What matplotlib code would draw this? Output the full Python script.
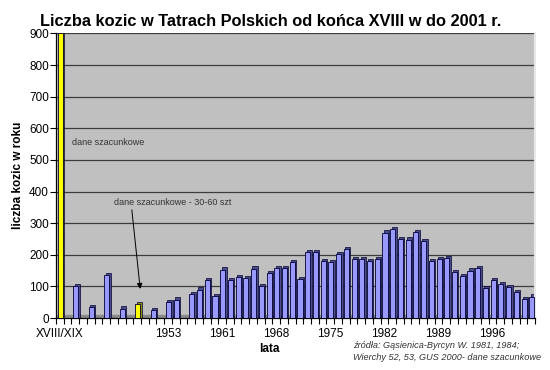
import numpy as np
import matplotlib.pyplot as plt

plt.rcParams['font.family'] = ['Liberation Sans', 'DejaVu Sans']

# kategorie (lata) - wczesne kategorie bez podpisu
labels = ['XVIII/XIX'] + [''] * 13 + ['1953', '1954', '1955'] + [str(r) for r in range(1957, 2002)]
nan = np.nan
kozice = [900, nan, 100, nan, 35, nan, 135, nan, 30, nan, 45, nan, 25, nan,
          50, 58, nan,
          76, 90, 119, 70, 153, 120, 129, 126, 156, 100, 141, 158, 158, 178, 122,
          209, 209, 179, 176, 203, 217, 186, 186, 179, 186, 270, 282, 250, 248, 271, 243,
          179, 186, 189, 145, 132, 150, 157, 94, 119, 107, 97, 82, 60, 68]
szacunkowe = [0, 10]   # indeksy danych szacunkowych
show_every = 7

vals = np.array(kozice, dtype=float)
x = np.arange(len(labels))
m = ~np.isnan(vals)
front = np.array(['#ffff00' if i in szacunkowe else '#9999ff' for i in x])
side = np.array(['#8c8c00' if i in szacunkowe else '#4d4d8c' for i in x])

fig = plt.figure(figsize=(5.5, 3.7), dpi=100)
ax = fig.add_axes([0.1018, 0.1405, 0.871, 0.769])
ax.set_facecolor('#c0c0c0')

ax.axhspan(0, 9, color='#8a8a8a', zorder=1)
ax.bar(x[m] + 0.26, vals[m] + 7, width=0.66, color=side[m], edgecolor='#000033', lw=0.5, zorder=2)
ax.bar(x[m] + 0.08, vals[m], width=0.66, color=front[m], edgecolor='#000033', lw=0.6, zorder=3)

ax.set_xlim(-0.5, len(labels) - 0.5)
ax.set_ylim(0, 900)
ax.set_yticks(np.arange(0, 901, 100))
ax.yaxis.grid(True, color='#3c3c3c', lw=0.9)
ax.set_axisbelow(True)

idx = x[::show_every]
ax.set_xticks(idx)
ax.set_xticklabels([labels[i] for i in idx])
ax.set_xticks(np.arange(-0.5, len(labels), 1), minor=True)
ax.tick_params(axis='x', which='major', length=0, pad=7, labelsize=8.5)
ax.tick_params(axis='x', which='minor', length=4, width=0.8, direction='out')
ax.tick_params(axis='y', length=4, width=0.8, labelsize=8.5, pad=1)

ax.spines['top'].set_visible(False)
ax.spines['right'].set_color('#e8e8e8')
ax.spines['right'].set_linewidth(1.5)
ax.spines['left'].set_linewidth(0.9)
ax.spines['bottom'].set_linewidth(0.9)

fig.text(0.492, 0.942, 'Liczba kozic w Tatrach Polskich od końca XVIII w do 2001 r.',
         ha='center', va='center', fontsize=11.8, fontweight='bold')
ax.set_ylabel('liczba kozic w roku', fontsize=8.5, fontweight='bold', labelpad=4)
fig.text(0.489, 0.058, 'lata', ha='center', va='center', fontsize=8.5, fontweight='bold')
fig.text(0.642, 0.05, 'źródła: Gąsienica-Byrcyn W. 1981, 1984;\nWierchy 52, 53, GUS 2000- dane szacunkowe',
         ha='left', va='center', fontsize=6.6, style='italic', color='#333333', linespacing=1.3)

ax.text(1.6, 555, 'dane szacunkowe', fontsize=6.5, color='#333333', va='center')
ax.annotate('dane szacunkowe - 30-60 szt', xy=(10.4, 92), xytext=(7.0, 365),
            fontsize=6.5, color='#333333', va='center',
            arrowprops=dict(arrowstyle='-|>', color='black', lw=0.7,
                            shrinkA=0, shrinkB=0, mutation_scale=8,
                            relpos=(0.15, 0.0)))

fig.savefig('out.png', dpi=100)
